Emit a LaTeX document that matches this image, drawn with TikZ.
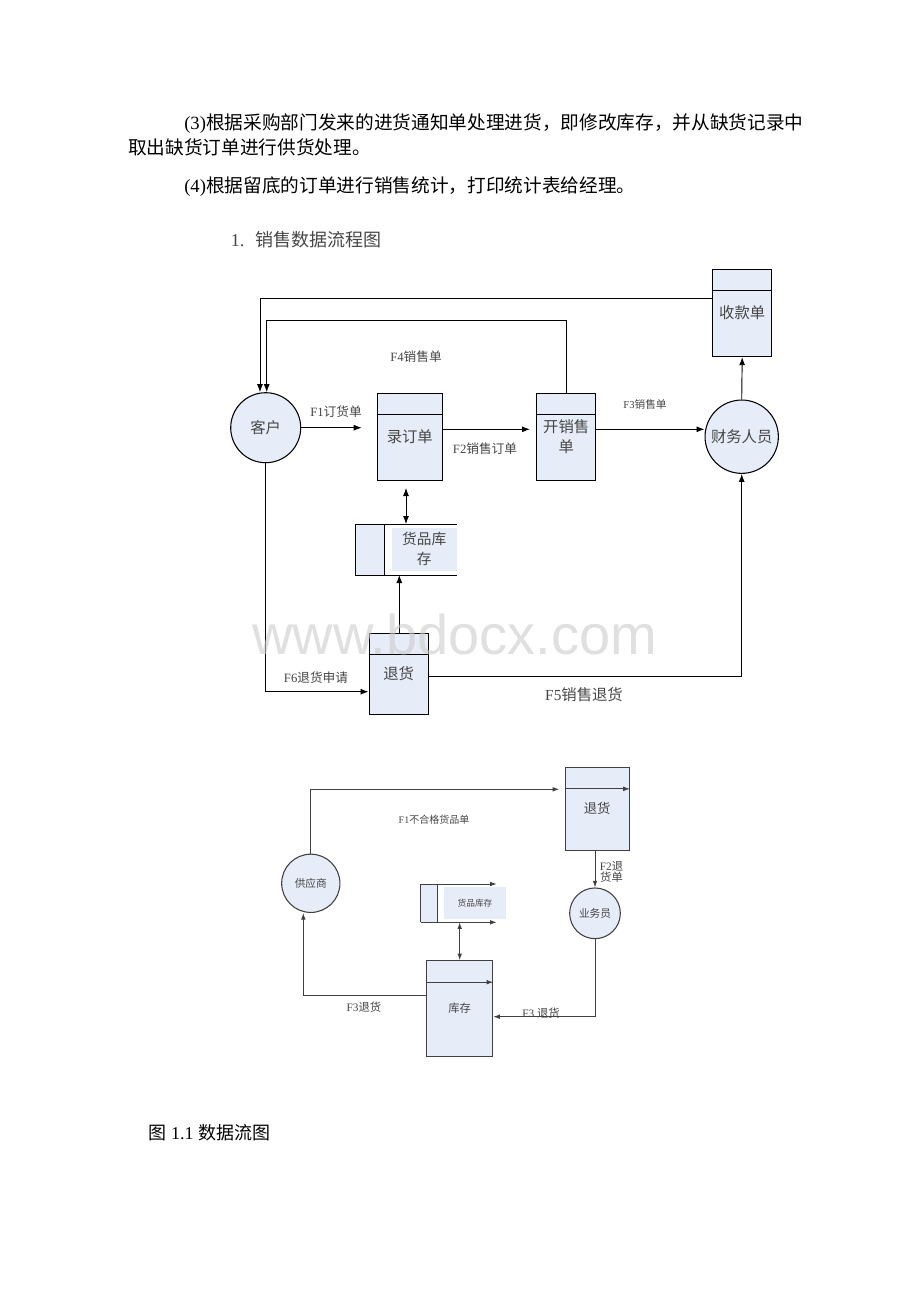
\documentclass[tikz,border=0pt]{standalone}
\usepackage{fontspec}
\setmainfont{Liberation Serif}
\newfontfamily\zhfont{Noto Sans CJK SC}
\newfontfamily\wmfont{Liberation Sans}
\newcommand{\zh}[1]{{\zhfont #1}}
\usetikzlibrary{arrows.meta}
\definecolor{boxblue}{RGB}{230,236,248}
\definecolor{linegray}{RGB}{64,64,64}
\definecolor{labelgray}{RGB}{70,70,70}
\tikzset{
    proc/.style={circle, draw, line width=0.8pt, fill=boxblue, inner sep=0pt, text=labelgray,
        font=\fontsize{11.5}{15}\selectfont\zhfont},
    storebox/.style={rectangle, draw, line width=0.8pt, fill=boxblue, inner sep=0pt, align=center,
        text=labelgray, font=\fontsize{11.5}{15}\selectfont\zhfont},
    proclow/.style={proc, draw=linegray, font=\fontsize{8}{10}\selectfont\zhfont},
    storelow/.style={storebox, draw=linegray, font=\fontsize{10}{12}\selectfont\zhfont},
    flow/.style={line width=0.7pt, -{Latex[length=6pt,width=4.5pt]}},
    bothflow/.style={line width=0.7pt, {Latex[length=6pt,width=4.5pt]}-{Latex[length=6pt,width=4.5pt]}},
    flowlow/.style={line width=0.7pt, draw=linegray, -{Latex[length=5pt,width=3.5pt]}},
    bothlow/.style={line width=0.7pt, draw=linegray, {Latex[length=5pt,width=3.5pt]}-{Latex[length=5pt,width=3.5pt]}},
    lbl/.style={inner sep=0pt, text=labelgray, font=\fontsize{9.5}{11}\selectfont},
    lbllow/.style={inner sep=0pt, text=labelgray, font=\fontsize{8.5}{8.5}\selectfont},
}
\begin{document}
\begin{tikzpicture}[x=0.75pt, y=-0.75pt]
    \fill[white] (0,0) rectangle (920,1302);
    \useasboundingbox (0,0) rectangle (920,1302);

    % body text
    \begin{scope}[every node/.style={anchor=west, inner sep=0pt, font=\fontsize{14}{16}\selectfont}]
        \node (pa) at (184,123.5) {(3)\zh{根据采购部门发来的进货通知单处理进货，即修改库存，并从缺货记录中}};
        \node (pb) at (128,147) {\zh{取出缺货订单进行供货处理。}};
        \node (pc) at (184,187) {(4)\zh{根据留底的订单进行销售统计，打印统计表给经理。}};
        \node[text=labelgray, font=\fontsize{13.5}{15}\selectfont] (head) at (230.7,239.5) {1.\hspace{8pt}\zh{销售数据流程图}};
        \node[font=\fontsize{13.5}{15}\selectfont] (cap) at (148.3,1132.7) {\zh{图} 1.1 \zh{数据流图}};
    \end{scope}

    % sales flow
    \node[proc, minimum size=52.5pt] (kh) at (265.7,427.7) {客户};
    \node[storebox, minimum width=48.75pt, minimum height=65.5pt] (ld) at (409.8,437) {录订单};
    \node[storebox, minimum width=44.25pt, minimum height=65.5pt] (kx) at (566.2,437) {开销售\\单};
    \node[storebox, minimum width=44.25pt, minimum height=65.5pt] (sk) at (742.2,313) {收款单};
    \node[proc, minimum size=55pt] (cw) at (741.7,436.7) {财务人员};
    \node[storebox, minimum width=44.5pt, minimum height=60.5pt] (th) at (398.7,673.7) {退货};
    \foreach \b in {ld,kx,sk,th}
        \draw[line width=0.7pt] ([yshift=-16.5pt]\b.north west) -- ([yshift=-16.5pt]\b.north east);

    % stock store
    \fill[boxblue] (355,524) rectangle (384,575);
    \node[fill=boxblue, minimum width=48.75pt, minimum height=32pt, inner sep=0pt, align=center,
        text=labelgray, font=\fontsize{11}{15}\selectfont\zhfont] (hp) at (424.2,549.3) {货品库\\存};
    \draw[line width=0.7pt] (456.7,524) -- (355,524) -- (355,575) -- (456.7,575);
    \draw[line width=0.7pt] (384,524) -- (384,575);
    \coordinate (hpt) at (406,524);
    \coordinate (hpb) at (399.3,575);
    \coordinate (ldb) at (406,488);

    \coordinate (f1e) at (361.7,427.7);
    \coordinate (f2e) at (530,429.3);
    \draw[flow] (sk.west |- 0,298) -| ([xshift=-4.3pt]kh.north);
    \draw[flow] (kx.north) -- ++(0,-72.6) -| ([xshift=0.75pt]kh.north);
    \draw[flow] (kh.east) -- (f1e);
    \draw[flow] (ld.east |- f2e) -- (f2e);
    \draw[flow] (kx.east |- f2e) -- (cw.west |- f2e);
    \draw[flow] (cw.north) -- (sk.south);
    \draw[bothflow] (ldb) -- (hpt);
    \draw[flow] (th.north -| hpb) -- (hpb);
    \draw[flow] (kh.south) |- (th.west |- 0,691.7);
    \draw[flow] (th.east |- 0,676.7) -| (cw.south);

    \node[lbl] (l4) at (416,356.7) {F4\zh{销售单}};
    \node[lbl] (l1) at (336,411.7) {F1\zh{订货单}};
    \node[lbl] (l2) at (485,448.3) {F2\zh{销售订单}};
    \node[lbl, font=\fontsize{8}{9}\selectfont] (l3) at (645,404) {F3\zh{销售单}};
    \node[lbl] (l6) at (316,677.3) {F6\zh{退货申请}};
    \node[lbl, font=\fontsize{11.5}{13}\selectfont] (l5) at (584,695) {F5\zh{销售退货}};

    % return flow
    \node[storelow, minimum width=48.2pt, minimum height=62pt] (tl) at (597.2,808.7) {退货};
    \node[proclow, minimum size=43.7pt] (gy) at (310.8,883.3) {供应商};
    \node[proclow, minimum size=38pt] (yw) at (595,913.3) {业务员};
    \node[storelow, minimum width=49.5pt, minimum height=71.5pt, font=\fontsize{8.5}{10}\selectfont\zhfont] (kc) at (459.7,1008.4) {库存};
    \draw[flowlow] ([yshift=-16.5pt]tl.north west) -- ([yshift=-16.5pt]tl.north east);
    \draw[flowlow] ([yshift=-16.5pt]kc.north west) -- ([yshift=-16.5pt]kc.north east);

    \fill[boxblue] (420.7,884) rectangle (437.3,922.3);
    \node[fill=boxblue, minimum width=46.5pt, minimum height=23.8pt, inner sep=0pt, text=labelgray,
        font=\fontsize{6.5}{8}\selectfont\zhfont] (hk) at (475,903) {货品库存};
    \draw[flowlow] (420.7,922.3) -- (420.7,884) -- (496.7,884);
    \draw[flowlow] (420.7,922.3) -- (496.7,922.3);
    \draw[line width=0.7pt, linegray] (437.3,884) -- (437.3,922.3);
    \coordinate (hkb) at (459.7,922.3);
    \coordinate (f1t) at (559.3,789.3);

    \draw[flowlow] (gy.north) |- (f1t);
    \draw[flowlow] (yw.north |- tl.south) -- (yw.north);
    \draw[flowlow] (yw.south) |- (kc.east |- 0,1016.7);
    \draw[flowlow] (kc.west |- 0,995.3) -| ([xshift=-5.6pt]gy.south);
    \draw[bothlow] (hkb) -- (kc.north);

    \node[lbllow, font=\fontsize{7.5}{8}\selectfont] (m1) at (434,820) {F1\zh{不合格货品单}};
    \node[lbllow, align=center] (m2) at (611.5,872) {F2\zh{退}\\\zh{货单}};
    \node[lbllow] (m3) at (364,1007.3) {F3\zh{退货}};
    \node[lbllow] (m4) at (541,1012.7) {F3 \zh{退货}};

    % watermark
    \node[anchor=base west, inner sep=0pt, font=\fontsize{42}{42}\wmfont, text=gray!40, opacity=0.6] (wm) at (252,654) {www.bdocx.com};
\end{tikzpicture}
\end{document}
